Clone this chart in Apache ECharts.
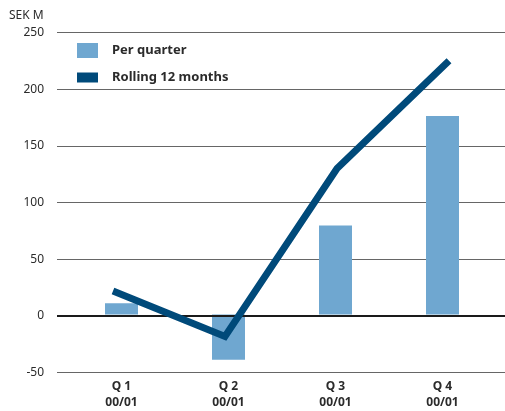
<!DOCTYPE html>
<html>
<head>
<meta charset="utf-8">
<script src="https://cdn.jsdelivr.net/npm/echarts@6/dist/echarts.min.js"></script>
<style>html,body{margin:0;padding:0;background:#fff}#c{width:505px;height:411px}</style>
</head>
<body>
<div id="c"></div>
<script>
var categories = ['Q 1\n00/01', 'Q 2\n00/01', 'Q 3\n00/01', 'Q 4\n00/01'];
var perQuarter = [10, -40, 79, 176];
var rolling12 = [22, -18, 130, 225];
var unitLabel = 'SEK M';

var FONT = '"Noto Sans", sans-serif';
var TXT = '#2b2b2b';
var chart = echarts.init(document.getElementById('c'), null, {renderer: 'canvas'});
var yCommon = {type: 'value', min: -50, max: 250, interval: 50};
chart.setOption({
  animation: false,
  textStyle: {fontFamily: FONT},
  grid: [
    {left: 57, right: 0, top: 32.5, bottom: 38.3},
    {left: 68, right: 9, top: 32.5, bottom: 38.3}
  ],
  graphic: [{type: 'text', left: 9, top: 10, style: {text: unitLabel, font: '12px ' + FONT, fill: TXT}}],
  legend: [
    {data: ['Per quarter'], left: 77, top: 43, itemWidth: 21, itemHeight: 15, icon: 'rect', padding: 0,
     textStyle: {fontFamily: FONT, fontSize: 13, fontWeight: 'bold', color: TXT, padding: [0, 0, 0, 9]}},
    {data: ['Rolling 12 months'], left: 77, top: 71, itemWidth: 21, itemHeight: 10, icon: 'rect', padding: 0,
     textStyle: {fontFamily: FONT, fontSize: 13, fontWeight: 'bold', color: TXT, padding: [0, 0, 0, 9]}}
  ],
  xAxis: [
    {type: 'category', gridIndex: 0, data: categories, show: false},
    {type: 'category', gridIndex: 1, data: categories, axisLine: {show: false}, axisTick: {show: false},
     axisLabel: {fontFamily: FONT, fontSize: 12, fontWeight: 'bold', color: TXT, lineHeight: 16, margin: 8}}
  ],
  yAxis: [
    Object.assign({gridIndex: 0}, yCommon, {
      axisLine: {show: false}, axisTick: {show: false},
      axisLabel: {fontFamily: FONT, fontSize: 12, color: TXT, margin: 13},
      splitLine: {lineStyle: {color: '#666666', width: 1}}
    }),
    Object.assign({gridIndex: 1}, yCommon, {show: false, splitLine: {show: false}})
  ],
  series: [
    {name: 'Per quarter', type: 'bar', xAxisIndex: 1, yAxisIndex: 1, data: perQuarter, barWidth: 33,
     itemStyle: {color: '#6fa7d0'}, z: 2},
    {name: 'Rolling 12 months', type: 'line', xAxisIndex: 0, yAxisIndex: 0, data: rolling12,
     showSymbol: false, symbol: 'none', lineStyle: {color: '#004a7a', width: 7, cap: 'butt', join: 'miter'},
     itemStyle: {color: '#004a7a'}, z: 4,
     markLine: {silent: true, z: 3, symbol: 'none', label: {show: false}, emphasis: {disabled: true},
       lineStyle: {color: '#1a1a1a', width: 2, type: 'solid'}, data: [{yAxis: 0}]}}
  ]
});
</script>
</body>
</html>
